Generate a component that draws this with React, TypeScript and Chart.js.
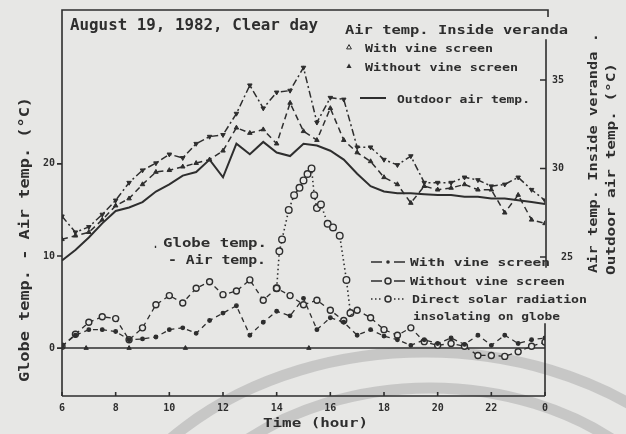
import React, { useEffect, useRef } from "react";
import { Chart, registerables } from "chart.js";
Chart.register(...registerables);

// ---------- data ----------
const hours = [6, 6.5, 7, 7.5, 8, 8.5, 9, 9.5, 10, 10.5, 11, 11.5, 12, 12.5, 13, 13.5, 14, 14.5, 15, 15.5, 16, 16.5, 17, 17.5, 18, 18.5, 19, 19.5, 20, 20.5, 21, 21.5, 22, 22.5, 23, 23.5, 24];

// right axis (°C)
const outdoorAirTemp = [24.8, 25.4, 26.1, 26.9, 27.6, 27.8, 28.1, 28.7, 29.1, 29.6, 29.8, 30.5, 29.5, 31.4, 30.8, 31.5, 30.9, 30.7, 31.4, 31.3, 31.0, 30.5, 29.7, 29.0, 28.7, 28.6, 28.6, 28.55, 28.5, 28.5, 28.4, 28.4, 28.3, 28.3, 28.2, 28.1, 28.0];
const verandaWithScreen = [26.0, 26.2, 26.4, 27.1, 27.9, 28.3, 29.1, 29.8, 29.9, 30.1, 30.3, 30.5, 31.0, 32.3, 32.0, 32.2, 31.4, 33.7, 32.1, 31.6, 33.4, 31.6, 30.9, 30.4, 29.5, 29.1, 28.05, 29.0, 28.8, 28.9, 29.1, 28.8, 28.8, 27.5, 28.5, 27.1, 26.9];
const verandaWithoutScreen = [27.3, 26.4, 26.7, 27.4, 28.2, 29.2, 29.9, 30.3, 30.8, 30.6, 31.4, 31.8, 31.9, 33.1, 34.7, 33.4, 34.3, 34.4, 35.7, 32.6, 34.0, 33.9, 31.2, 31.2, 30.5, 30.2, 30.7, 29.2, 29.2, 29.2, 29.5, 29.35, 29.0, 29.1, 29.5, 28.8, 28.2];

// left axis: globe temp - air temp (°C)
const globeWithScreen = [0.2, 1.4, 2.0, 2.0, 1.8, 0.9, 1.0, 1.2, 2.0, 2.2, 1.6, 3.0, 3.8, 4.6, 1.4, 2.8, 4.0, 3.5, 5.4, 2.0, 3.3, 2.8, 1.4, 2.0, 1.3, 0.9, 0.3, 0.9, 0.5, 1.1, 0.4, 1.4, 0.3, 1.4, 0.5, 0.9, 1.1];
const globeWithoutScreen = [0.2, 1.5, 2.8, 3.4, 3.2, 0.9, 2.2, 4.7, 5.7, 4.9, 6.5, 7.2, 5.8, 6.2, 7.4, 5.2, 6.5, 5.7, 4.7, 5.2, 4.1, 3.0, 4.1, 3.3, 2.0, 1.4, 2.2, 0.7, 0.3, 0.5, 0.2, -0.8, -0.8, -0.9, -0.4, 0.2, 0.65];
const directSolarHours = [14.0, 14.1, 14.2, 14.45, 14.65, 14.85, 15.0, 15.15, 15.3, 15.4, 15.5, 15.65, 15.9, 16.1, 16.35, 16.6, 16.75];
const directSolarValues = [6.5, 10.5, 11.8, 15.0, 16.6, 17.4, 18.2, 18.9, 19.5, 16.6, 15.2, 15.6, 13.5, 13.1, 12.2, 7.4, 3.8];
const baselineHours = [6, 24];
const baselineValues = [0, 0];
const baselineMarkHours = [6.9, 8.5, 10.6, 15.2];

// ticks
const xTickValues = [6, 8, 10, 12, 14, 16, 18, 20, 22, 24];
const xTickLabels = ["6", "8", "10", "12", "14", "16", "18", "20", "22", "0"];
const leftTickValues = [0, 10, 20];
const rightTickValues = [25, 30, 35];

// ---------- style ----------
const INK = "#2e2e2e";
const BG = "#e7e7e5";
const FONT = '"DejaVu Sans Mono", monospace';

const pts = (xs: number[], ys: number[]) => xs.map((x, i) => ({ x, y: ys[i] }));

function fitText(ctx: CanvasRenderingContext2D, text: string, x: number, y: number, w: number, size: number, rot = 0) {
  ctx.save();
  ctx.font = `bold ${size}px ${FONT}`;
  const m = ctx.measureText(text).width;
  ctx.translate(x, y);
  if (rot) ctx.rotate(rot);
  ctx.scale(w / m, 1);
  ctx.textAlign = "left";
  ctx.textBaseline = "alphabetic";
  ctx.fillStyle = INK;
  ctx.fillText(text, 0, 0);
  ctx.restore();
}

function tri(ctx: CanvasRenderingContext2D, x: number, y: number, r: number, filled: boolean) {
  ctx.beginPath();
  ctx.moveTo(x, y - r);
  ctx.lineTo(x + r, y + r * 0.8);
  ctx.lineTo(x - r, y + r * 0.8);
  ctx.closePath();
  if (filled) { ctx.fillStyle = INK; ctx.fill(); } else { ctx.fillStyle = BG; ctx.fill(); ctx.stroke(); }
}

const decor = {
  id: "decor",
  beforeDraw(chart: any) {
    const ctx = chart.ctx as CanvasRenderingContext2D;
    ctx.save();
    ctx.fillStyle = BG;
    ctx.fillRect(0, 0, chart.width, chart.height);
    // faint watermark arcs of the scan
    ctx.strokeStyle = "rgba(185,185,185,0.7)";
    ctx.lineWidth = 11;
    ctx.beginPath();
    ctx.ellipse(425, 610, 340, 258, 0, Math.PI, 2 * Math.PI);
    ctx.stroke();
    ctx.beginPath();
    ctx.ellipse(430, 610, 285, 222, 0, Math.PI, 2 * Math.PI);
    ctx.stroke();
    ctx.restore();
  },
  afterDraw(chart: any) {
    const ctx = chart.ctx as CanvasRenderingContext2D;
    const a = chart.chartArea;
    const sx = chart.scales.x, sy = chart.scales.y, sy2 = chart.scales.y2;
    ctx.save();
    ctx.strokeStyle = INK;
    ctx.fillStyle = INK;
    ctx.lineWidth = 1.6;
    ctx.setLineDash([]);
    // frame
    ctx.beginPath();
    ctx.moveTo(a.left, a.bottom); ctx.lineTo(a.left, a.top);
    ctx.lineTo(a.right + 3, a.top); ctx.lineTo(a.right + 3, a.top + 7);
    ctx.moveTo(a.left, a.bottom); ctx.lineTo(a.right, a.bottom);
    ctx.moveTo(a.right, a.bottom); ctx.lineTo(a.right, sy.getPixelForValue(2.7));
    ctx.moveTo(a.right + 1, sy2.getPixelForValue(24.4)); ctx.lineTo(a.right + 1, sy2.getPixelForValue(37.3));
    ctx.stroke();
    // ticks
    ctx.beginPath();
    xTickValues.forEach((v) => {
      const px = sx.getPixelForValue(v);
      ctx.moveTo(px, a.bottom); ctx.lineTo(px, a.bottom - 4);
    });
    leftTickValues.forEach((v) => {
      const py = sy.getPixelForValue(v);
      ctx.moveTo(a.left - 5, py); ctx.lineTo(a.left, py);
    });
    rightTickValues.forEach((v) => {
      const py = sy2.getPixelForValue(v);
      ctx.moveTo(a.right - 5, py); ctx.lineTo(a.right + 1, py);
    });
    ctx.stroke();
    ctx.font = `bold 10px ${FONT}`;
    ctx.textAlign = "center";
    ctx.textBaseline = "middle";
    xTickValues.forEach((v, i) => ctx.fillText(xTickLabels[i], sx.getPixelForValue(v), a.bottom + 12));
    ctx.textAlign = "right";
    leftTickValues.forEach((v) => ctx.fillText(String(v), a.left - 7, sy.getPixelForValue(v)));
    ctx.textAlign = "left";
    rightTickValues.forEach((v) => ctx.fillText(String(v), a.right + (v === 25 ? 16 : 7), sy2.getPixelForValue(v)));
    ctx.restore();

    // texts
    fitText(ctx, "August 19, 1982, Clear day", 70, 30, 248, 15);
    fitText(ctx, "Air temp. Inside veranda", 345, 34, 223, 13);
    ctx.save(); ctx.strokeStyle = INK; ctx.lineWidth = 1;
    tri(ctx, 349, 47, 2.4, false);
    tri(ctx, 349, 66, 2.6, true);
    ctx.restore();
    fitText(ctx, "With vine screen", 365, 52, 128, 10);
    fitText(ctx, "Without vine screen", 365, 71, 153, 10);
    ctx.save(); ctx.strokeStyle = INK; ctx.lineWidth = 2;
    ctx.beginPath(); ctx.moveTo(360, 98); ctx.lineTo(386, 98); ctx.stroke(); ctx.restore();
    fitText(ctx, "Outdoor air temp.", 397, 103, 133, 10.5);
    fitText(ctx, ".", 153, 248, 5, 12);
    fitText(ctx, "Globe temp.", 163, 247, 104, 13);
    fitText(ctx, "- Air temp.", 168, 264, 98, 13);

    // lower legend symbols
    ctx.save(); ctx.strokeStyle = INK; ctx.lineWidth = 1.5;
    const rowsY = [262, 281, 299];
    rowsY.forEach((yy, i) => {
      ctx.setLineDash(i === 2 ? [1.5, 2.5] : []);
      ctx.beginPath(); ctx.moveTo(371, yy); ctx.lineTo(382, yy); ctx.moveTo(394, yy); ctx.lineTo(405, yy); ctx.stroke();
      ctx.setLineDash([]);
      ctx.beginPath(); ctx.arc(388, yy, i === 0 ? 1.8 : 3, 0, Math.PI * 2);
      if (i === 0) { ctx.fillStyle = INK; ctx.fill(); } else { ctx.fillStyle = BG; ctx.fill(); ctx.stroke(); }
    });
    ctx.restore();
    fitText(ctx, "With vine screen", 410, 266, 140, 10);
    fitText(ctx, "Without vine screen", 410, 285, 155, 10);
    fitText(ctx, "Direct solar radiation", 412, 303, 175, 10);
    fitText(ctx, "insolating on globe", 413, 320, 147, 10);

    // axis titles
    fitText(ctx, "Globe temp. - Air temp. (\u00B0C)", 29, 382, 285, 14, -Math.PI / 2);
    fitText(ctx, "Air temp. Inside veranda .", 597, 273, 240, 12, -Math.PI / 2);
    fitText(ctx, "Outdoor air temp. (\u00B0C)", 615, 275, 212, 12, -Math.PI / 2);
    fitText(ctx, "Time (hour)", 263, 427, 105, 12);
  },
};

export default function App() {
  const ref = useRef<HTMLCanvasElement | null>(null);
  useEffect(() => {
    document.body.style.margin = "0";
    const canvas = ref.current!;
    const common = { pointBorderColor: INK, borderColor: INK, tension: 0, spanGaps: true };
    const chart = new Chart(canvas, {
      type: "line",
      data: {
        datasets: [
          { label: "Outdoor air temp.", data: pts(hours, outdoorAirTemp), yAxisID: "y2", borderWidth: 2, pointRadius: 0, ...common },
          { label: "Veranda with vine screen", data: pts(hours, verandaWithScreen), yAxisID: "y2", borderWidth: 1.5, borderDash: [6, 4], pointStyle: "triangle", pointRadius: 2.6, pointBackgroundColor: INK, pointBorderWidth: 1, ...common },
          { label: "Veranda without vine screen", data: pts(hours, verandaWithoutScreen), yAxisID: "y2", borderWidth: 1.5, borderDash: [7, 3, 2, 3], pointStyle: "triangle", pointRotation: 180, pointRadius: 2.6, pointBackgroundColor: INK, pointBorderWidth: 1, ...common },
          { label: "Globe with vine screen", data: pts(hours, globeWithScreen), yAxisID: "y", borderWidth: 1.3, borderDash: [5, 4], pointRadius: 1.8, pointBackgroundColor: INK, ...common },
          { label: "Globe without vine screen", data: pts(hours, globeWithoutScreen), yAxisID: "y", borderWidth: 1.3, borderDash: [5, 4], pointRadius: 3, pointBackgroundColor: BG, pointBorderWidth: 1.4, ...common },
          { label: "Direct solar radiation", data: pts(directSolarHours, directSolarValues), yAxisID: "y", borderWidth: 1.6, borderDash: [1.5, 3], pointRadius: 3.3, pointBackgroundColor: BG, pointBorderWidth: 1.4, ...common },
          { label: "Zero line", data: pts(baselineHours, baselineValues), yAxisID: "y", borderWidth: 1.5, pointRadius: 0, ...common },
          { label: "Zero marks", data: baselineMarkHours.map((h) => ({ x: h, y: 0 })), yAxisID: "y", showLine: false, pointStyle: "triangle", pointRadius: 2.5, pointBackgroundColor: INK, ...common },
        ],
      },
      options: {
        animation: false,
        responsive: false,
        layout: { padding: { left: 62, right: 81, top: 10, bottom: 38 } },
        plugins: { legend: { display: false }, tooltip: { enabled: false }, title: { display: false } },
        scales: {
          x: { type: "linear", min: 6, max: 24, display: false },
          y: { type: "linear", min: -5.2, max: 36.7, display: false },
          y2: { type: "linear", min: 17.15, max: 38.95, display: false, position: "right" },
        },
      },
      plugins: [decor],
    });
    return () => chart.destroy();
  }, []);
  return (
    <div style={{ width: 626, height: 434 }}>
      <canvas ref={ref} width={626} height={434} style={{ display: "block" }} />
    </div>
  );
}
